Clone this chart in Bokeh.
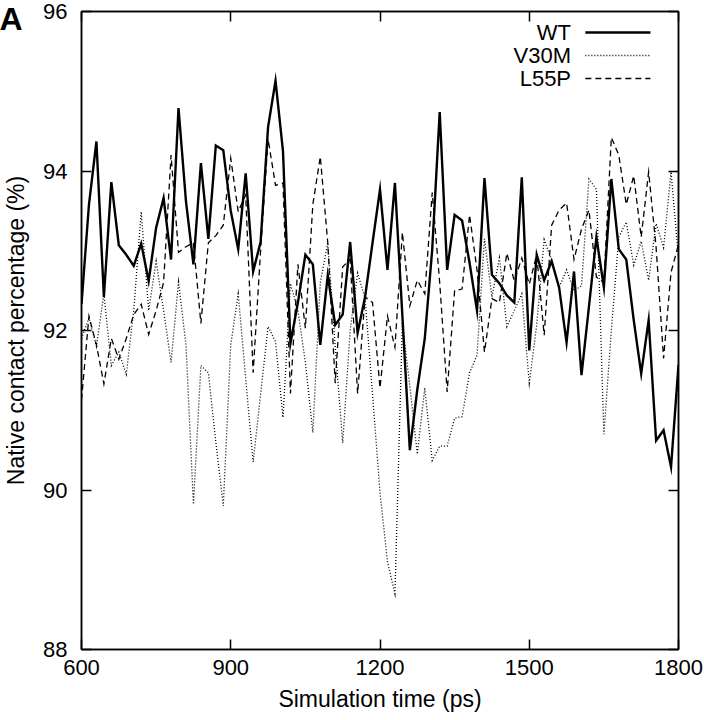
from bokeh.plotting import figure
from bokeh.models import LinearAxis, FixedTicker, Range1d, Label
from bokeh.embed import file_html
from bokeh.resources import INLINE
from bokeh.core.properties import value

# ---------------- data ----------------
time_ps = list(range(600, 1801, 15))

wt = [92.33, 93.58, 94.37, 92.42, 93.86, 93.07, 92.95, 92.81, 93.09, 92.62,
      93.29, 93.66, 92.89, 94.79, 93.62, 92.83, 94.10, 93.15, 94.32, 94.26,
      93.50, 93.02, 93.97, 92.74, 93.11, 94.55, 95.13, 94.25, 91.84, 92.35,
      92.95, 92.83, 91.82, 92.69, 92.07, 92.20, 93.11, 91.97, 92.42, 93.10,
      93.77, 92.76, 93.85, 92.18, 90.50, 91.26, 91.90, 93.02, 94.74, 92.76,
      93.45, 93.38, 92.85, 92.25, 93.91, 92.70, 92.59, 92.44, 92.35, 93.92,
      91.75, 92.95, 92.63, 92.87, 92.54, 91.85, 92.74, 91.44, 92.30, 93.17,
      92.54, 93.90, 93.02, 92.89, 92.13, 91.46, 92.13, 90.62, 90.75, 90.29,
      91.57]

v30m = [91.90, 92.16, 91.80, 92.46, 91.56, 91.73, 91.45, 92.25, 93.49, 92.25,
        92.87, 92.25, 91.60, 92.61, 91.82, 89.82, 91.56, 91.47, 90.60, 89.80,
        91.82, 92.46, 91.40, 90.35, 91.20, 92.05, 91.86, 90.91, 92.59, 92.25,
        91.60, 90.72, 92.60, 93.10, 91.80, 90.59, 92.00, 92.72, 92.40, 91.20,
        89.97, 89.10, 88.70, 92.10, 91.30, 90.45, 91.28, 90.37, 90.55, 90.55,
        90.90, 90.92, 91.47, 91.69, 93.15, 92.42, 92.91, 92.05, 92.25, 92.46,
        91.34, 92.07, 93.14, 92.88, 92.54, 92.76, 92.50, 92.56, 93.90, 93.77,
        90.70, 92.00, 93.17, 93.36, 92.82, 93.12, 92.63, 93.34, 93.04, 93.99,
        92.90]

l55p = [91.13, 92.18, 91.82, 91.33, 91.90, 91.64, 91.90, 92.20, 92.33, 91.95,
        92.25, 92.60, 94.20, 92.98, 93.05, 93.10, 92.09, 93.10, 93.19, 93.32,
        94.16, 93.49, 93.70, 91.47, 93.00, 94.40, 93.82, 93.85, 91.21, 92.83,
        92.03, 93.58, 94.18, 93.10, 91.34, 92.80, 92.89, 91.21, 92.42, 92.35,
        91.28, 92.18, 91.79, 93.23, 92.31, 92.63, 92.46, 93.73, 92.60, 91.23,
        92.50, 92.52, 93.45, 92.76, 91.73, 92.40, 92.35, 92.97, 92.62, 92.91,
        92.58, 92.95, 91.94, 93.32, 93.51, 93.60, 92.89, 93.27, 93.51, 92.67,
        92.60, 94.42, 94.20, 93.58, 93.94, 93.17, 93.99, 93.04, 91.65, 92.73,
        93.08]

series_names = ["WT", "V30M", "L55P"]
x_ticks = [600, 900, 1200, 1500, 1800]
y_ticks = [88, 90, 92, 94, 96]
x_label = "Simulation time (ps)"
y_label = "Native contact percentage (%)"
panel_tag = "A"

# ---------------- style ----------------
FONT = "Liberation Sans"
styles = [
    dict(line_width=2.4, line_dash="solid"),
    dict(line_width=1.3, line_dash="1 2"),
    dict(line_width=1.3, line_dash="6 4"),
]

X0, X1 = 600, 1800
Y0, Y1 = 88, 96
W, H = 704, 720
BL, BR, BT, BB = 77, 26, 11, 71

p = figure(width=W, height=H, output_backend="svg", toolbar_location=None,
           x_range=Range1d(X0, X1), y_range=Range1d(Y0, Y1),
           min_border_left=BL, min_border_right=BR,
           min_border_top=BT, min_border_bottom=BB)
p.background_fill_color = "white"
p.border_fill_color = "white"
p.grid.visible = False
p.outline_line_color = "black"
p.outline_line_width = 1.5


def style_axis(ax, show_labels):
    ax.axis_line_color = "black"
    ax.axis_line_width = 1.5
    ax.major_tick_in = 10
    ax.major_tick_out = 0
    ax.major_tick_line_width = 1.5
    ax.minor_tick_line_color = None
    if show_labels:
        ax.major_label_text_font = FONT
        ax.major_label_text_font_size = "22px"
        ax.major_label_text_color = "black"
        ax.axis_label_text_font = FONT
        ax.axis_label_text_font_size = "23px"
        ax.axis_label_text_font_style = "normal"
        ax.axis_label_text_color = "black"
    else:
        ax.major_label_text_font_size = "1px"
        ax.major_label_text_color = None
        ax.major_label_standoff = 0


p.xaxis.ticker = FixedTicker(ticks=x_ticks)
p.yaxis.ticker = FixedTicker(ticks=y_ticks)
p.xaxis.axis_label = x_label
p.yaxis.axis_label = y_label
style_axis(p.xaxis[0], True)
style_axis(p.yaxis[0], True)
p.xaxis.major_label_standoff = 10
p.yaxis.major_label_standoff = 14
p.xaxis.axis_label_standoff = 8
p.yaxis.axis_label_standoff = 11

top_ax = LinearAxis(ticker=FixedTicker(ticks=x_ticks))
style_axis(top_ax, False)
p.add_layout(top_ax, "above")
right_ax = LinearAxis(ticker=FixedTicker(ticks=y_ticks))
style_axis(right_ax, False)
p.add_layout(right_ax, "right")

for name, ys, st in zip(series_names, [wt, v30m, l55p], styles):
    p.line(time_ps, ys, line_color="black", line_join="miter", **st)

# legend (text right-aligned, sample line on its right), top-right inside
leg_text_x = X0 + 0.820 * (X1 - X0)
leg_line_x0 = X0 + 0.844 * (X1 - X0)
leg_line_x1 = X0 + 0.953 * (X1 - X0)
leg_y = [Y1 - (0.033 + k * 0.036) * (Y1 - Y0) for k in range(3)]
p.text(x=[leg_text_x] * 3, y=leg_y, text=series_names,
       text_font=value(FONT), text_font_size="22px", text_align="right",
       text_baseline="middle", text_color="black")
for yy, st in zip(leg_y, styles):
    p.line([leg_line_x0, leg_line_x1], [yy, yy], line_color="black", **st)

# panel tag: lives in the right side panel (so it is not clipped to the
# frame) and is shifted to the top-left corner of the canvas
frame_w = W - BL - BR
frame_h = H - BT - BB
tag = Label(x=-(BL + frame_w + 1), y=frame_h + BT, x_units="screen",
            y_units="screen", text=panel_tag, text_font=FONT,
            text_font_size="32px", text_font_style="bold", text_color="black",
            text_align="left", text_baseline="top")
p.add_layout(tag, "right")

open("out.html", "w").write(file_html(p, INLINE))
